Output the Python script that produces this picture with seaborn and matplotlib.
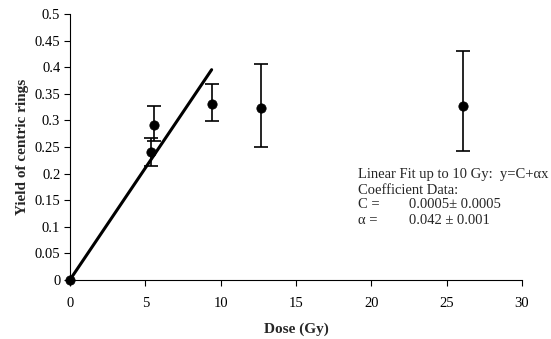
import numpy as np
import pandas as pd
import matplotlib
matplotlib.use("Agg")
import matplotlib.pyplot as plt
import seaborn as sns

dose = [0.0, 5.4, 5.6, 9.4, 12.7, 26.1]
yield_rings = [0.0, 0.240, 0.291, 0.331, 0.324, 0.328]
err_low = [0.0, 0.025, 0.029, 0.032, 0.074, 0.085]
err_high = [0.0, 0.027, 0.037, 0.037, 0.082, 0.102]

fit_dose = [0.0, 9.4]
fit_C = 0.0005
fit_alpha = 0.042

sns.set_style("ticks")
plt.rcParams['font.family'] = ['Liberation Serif', 'DejaVu Serif']

fig = plt.figure(figsize=(5.51, 3.39), dpi=100)
ax = fig.add_axes([70/551, 1-280/339, (522-70)/551, (280-14)/339])

df = pd.DataFrame({"dose": dose, "y": yield_rings})
fit_df = pd.DataFrame({"dose": fit_dose,
                       "y": [fit_C + fit_alpha * d for d in fit_dose]})

sns.lineplot(data=fit_df, x="dose", y="y", ax=ax, color="black", linewidth=2.2)
ax.errorbar(dose[1:], yield_rings[1:], yerr=[err_low[1:], err_high[1:]],
            fmt="none", ecolor="black", elinewidth=1.2, capsize=5, capthick=1.2)
sns.scatterplot(data=df, x="dose", y="y", ax=ax, color="black", s=45,
                edgecolor="black", zorder=5, clip_on=False)

ax.set_xlim(0, 30)
ax.set_ylim(0, 0.5)
ax.set_xticks(np.arange(0, 31, 5))
ax.set_yticks(np.arange(0, 0.51, 0.05))
ax.set_yticklabels(["0", "0.05", "0.1", "0.15", "0.2", "0.25", "0.3", "0.35",
                    "0.4", "0.45", "0.5"])
ax.tick_params(axis="both", labelsize=10.5, direction="out", length=4,
               width=0.8, colors="black")
ax.tick_params(axis="x", pad=8)
ax.tick_params(axis="y", pad=3)
for s in ["top", "right"]:
    ax.spines[s].set_visible(False)
for s in ["left", "bottom"]:
    ax.spines[s].set_linewidth(0.8)
    ax.spines[s].set_color("black")

ax.set_xlabel("Dose (Gy)", fontsize=11, fontweight="bold", labelpad=9)
ax.set_ylabel("Yield of centric rings", fontsize=11, fontweight="bold", labelpad=4)

tx = 358
lines = [("Linear Fit up to 10 Gy:  y=C+\u03b1x", None),
         ("Coefficient Data:", None),
         ("C =", "0.0005\u00b1 0.0005"),
         ("\u03b1 =", "0.042 \u00b1 0.001")]
ys = [175, 190, 205, 220]
for (a, b), yp in zip(lines, ys):
    fig.text(tx/551, 1-yp/339, a, fontsize=10.5, va="center", ha="left")
    if b:
        fig.text(409/551, 1-yp/339, b, fontsize=10.5, va="center", ha="left")

fig.savefig("out.png", dpi=100)
